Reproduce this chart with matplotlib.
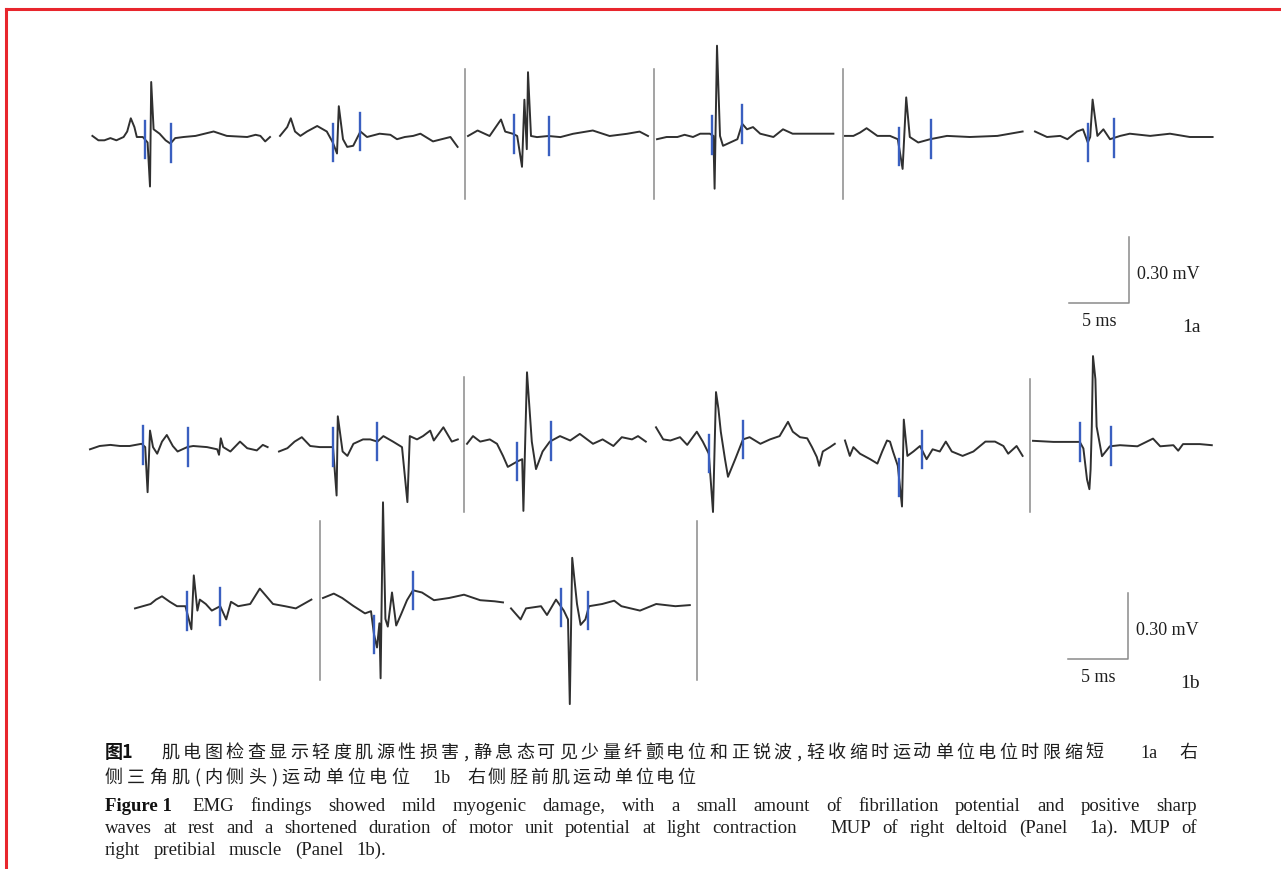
import numpy as np
import matplotlib
matplotlib.use("Agg")
import matplotlib.pyplot as plt
from matplotlib.lines import Line2D

# ---------------- data (time in ms, amplitude in µV) ----------------
# Panel 1a : MUP of right deltoid
t_1a1 = [0.2, 0.7, 1.2, 1.7, 2.2, 2.8, 3.1, 3.4, 3.7, 3.9, 4.4, 4.8, 5.0, 5.1, 5.3, 5.8, 6.3, 6.7, 7.1, 7.8, 8.8, 10.3, 11.4, 13.1, 13.8, 14.2, 14.6, 15.0]
v_1a1 = [5, -15, -15, -5, -15, 0, 25, 85, 45, 0, 0, -25, -225, 250, 35, 15, -15, -30, -5, 0, 5, 25, 5, 0, 10, 5, -20, 0]
m_1a1 = [4.6, 6.75]

t_1a2 = [0, 0.6, 0.9, 1.25, 1.7, 2.25, 3.1, 3.9, 4.4, 4.75, 4.9, 5.25, 5.6, 6.1, 6.7, 7.25, 8.3, 9.2, 9.75, 10.4, 11.1, 11.7, 12.75, 14.2, 14.8]
v_1a2 = [5, 45, 85, 25, 5, 25, 50, 25, -25, -75, 140, -10, -45, -40, 25, 0, 15, 10, -10, 0, 5, 15, -20, 0, -45]
m_1a2 = [4.4, 6.7]

t_1a3 = [0, 0.8, 1.8, 2.75, 3.1, 3.75, 4.1, 4.5, 4.7, 4.9, 5.0, 5.25, 5.75, 6.7, 7.7, 8.75, 10.4, 11.8, 13.25, 14.3, 15.0]
v_1a3 = [0, 25, 0, 75, 20, 10, 0, -140, 165, -60, 290, 0, -5, 0, -5, 10, 25, 0, 10, 20, 0]
m_1a3 = [3.8, 6.75]

t_1a4 = [0, 0.8, 1.7, 2.3, 3.0, 3.6, 4.4, 4.7, 4.8, 5.0, 5.25, 5.5, 6.1, 6.7, 7.1, 7.5, 8.0, 8.6, 9.7, 10.5, 11.3, 13.0, 14.7]
v_1a4 = [-10, 0, 0, 10, 0, 15, 15, 5, -235, 415, 5, -40, -25, -10, 60, 35, 45, 15, 0, 35, 15, 15, 15]
m_1a4 = [4.6, 7.1]

t_1a5 = [0, 0.7, 1.25, 1.8, 2.7, 3.75, 4.4, 4.8, 5.1, 5.4, 6.1, 7.1, 8.5, 10.4, 12.7, 14.8]
v_1a5 = [5, 5, 20, 40, 5, 5, -10, -145, 180, 0, -25, -10, 5, 0, 5, 25]
m_1a5 = [4.5, 7.2]

t_1a6 = [0, 1.0, 2.1, 2.7, 3.5, 4.0, 4.4, 4.6, 4.8, 5.2, 5.7, 6.25, 7.1, 7.9, 9.6, 11.25, 12.9, 14.8]
v_1a6 = [25, 0, 5, -10, 25, 35, -25, 0, 170, 5, 35, -10, 5, 15, 5, 15, 0, 0]
m_1a6 = [4.4, 6.6]

# Panel 1b : MUP of right pretibial muscle
t_1b1 = [0, 0.8, 1.7, 2.5, 3.3, 4.3, 4.6, 4.8, 5.0, 5.25, 5.6, 6.0, 6.4, 6.9, 7.3, 8.1, 8.6, 9.75, 10.6, 10.75, 10.9, 11.1, 11.7, 12.5, 13.1, 13.9, 14.4, 14.8]
v_1b1 = [-15, 0, 5, 0, 0, 10, -5, -210, 70, -5, -35, 20, 50, 0, -25, -5, 0, -5, -15, -40, 35, -5, -25, 20, -10, -20, 5, -5]
m_1b1 = [4.4, 8.2]

t_1b2 = [0, 0.7, 1.3, 1.9, 2.6, 3.4, 4.5, 4.8, 4.9, 5.3, 5.7, 6.2, 7.0, 7.6, 8.2, 8.7, 9.5, 10.25, 10.7, 10.9, 11.5, 12.0, 12.6, 12.9, 13.7, 14.4, 14.9]
v_1b2 = [-25, -10, 20, 40, 0, -5, -5, -225, 135, -25, -45, 10, 30, 30, 20, 45, 20, -5, -255, 45, 30, 45, 70, 25, 85, 20, 30]
m_1b2 = [4.5, 8.2]

t_1b3 = [0, 0.5, 1.1, 1.9, 2.5, 3.0, 3.4, 4.2, 4.6, 4.7, 5.0, 5.4, 5.75, 6.3, 6.9, 7.75, 8.6, 9.4, 10.5, 11.3, 12.2, 12.9, 13.75, 14.25, 14.9]
v_1b3 = [10, 45, 20, 30, 10, -45, -95, -70, -60, -295, 335, 20, -105, -25, 20, 45, 25, 55, 10, 30, 0, 40, 30, 45, 20]
m_1b3 = [4.2, 7.0]

t_1b4 = [0, 0.6, 1.2, 2.0, 2.6, 3.4, 3.9, 4.4, 4.75, 5.0, 5.2, 5.4, 5.75, 6.0, 6.6, 7.25, 7.8, 8.7, 9.5, 10.3, 11.0, 11.4, 12.0, 12.6, 13.0, 13.4, 13.6, 13.9, 14.5, 14.9]
v_1b4 = [85, 30, 25, 40, 5, 65, 20, -35, -300, 245, 170, 65, -60, -140, -60, 30, 40, 10, 30, 45, 110, 65, 40, 35, -5, -50, -90, -25, -5, 10]
m_1b4 = [4.4, 7.25]

t_1b5 = [0, 0.4, 0.7, 1.25, 2.1, 2.7, 3.1, 3.5, 3.75, 4.0, 4.4, 4.75, 4.9, 5.2, 5.7, 6.25, 6.8, 7.3, 7.9, 8.4, 8.9, 9.8, 10.7, 11.7, 12.5, 13.2, 13.6, 14.3, 14.8]
v_1b5 = [25, -45, -5, -35, -60, -80, -25, 25, 20, -25, -90, -275, 120, -45, -25, 0, -60, -15, -25, 20, -25, -45, -25, 20, 20, 0, -35, 0, -45]
m_1b5 = [4.5, 6.4]

t_1b6 = [0, 1.7, 3.9, 4.2, 4.5, 4.7, 4.8, 4.9, 5.0, 5.2, 5.3, 5.75, 6.4, 7.25, 8.7, 10.0, 10.6, 11.7, 12.1, 12.5, 13.9, 14.9]
v_1b6 = [10, 5, 5, -25, -165, -210, -120, 75, 395, 290, 75, -60, -15, -10, -15, 20, -15, -10, -35, -5, -5, -10]
m_1b6 = [3.9, 6.5]

t_1b7 = [0, 1.3, 1.75, 2.25, 2.9, 3.5, 4.2, 4.7, 4.9, 5.2, 5.4, 5.9, 6.4, 7.1, 7.6, 8.0, 8.6, 9.6, 10.4, 11.5, 12.5, 13.4, 14.7]
v_1b7 = [-20, 0, 20, 35, 10, -10, -10, -115, 130, -30, 20, 0, -30, -10, -70, 10, -10, 0, 70, 0, -10, -20, 20]
m_1b7 = [4.3, 7.1]

t_1b8 = [0, 0.9, 1.6, 2.5, 3.5, 4.0, 4.25, 4.5, 4.7, 4.8, 5.0, 5.2, 5.4, 5.75, 6.1, 6.5, 7.0, 7.5, 8.25, 9.25, 10.5, 11.75, 13.1, 14.3, 15.0]
v_1b8 = [0, 20, 0, -35, -70, -60, -165, -225, -115, -365, 435, -95, -130, 25, -125, -75, -10, 35, 25, -10, 0, 15, -10, -15, -20]
m_1b8 = [4.25, 7.5]

t_1b9 = [0, 0.8, 1.25, 2.5, 3.0, 3.75, 4.4, 4.75, 4.9, 5.1, 5.5, 5.8, 6.2, 6.5, 7.6, 8.6, 9.2, 10.75, 12.1, 13.7, 14.9]
v_1b9 = [-20, -70, -20, -10, -50, 20, -30, -70, -455, 210, 0, -95, -70, -10, 0, 15, -10, -30, 0, -10, -5]
m_1b9 = [4.2, 6.4]

scale_ms = 5
scale_mv = 0.30

caption_cn1 = ["图1", "肌电图检查显示轻度肌源性损害,静息态可见少量纤颤电位和正锐波,轻收缩时运动单位电位时限缩短", "1a", "右"]
caption_cn2 = ["侧三角肌(内侧头)运动单位电位", "1b", "右侧胫前肌运动单位电位"]
caption_en1 = "EMG findings showed mild myogenic damage, with a small amount of fibrillation potential and positive sharp"
caption_en2 = "waves at rest and a shortened duration of motor unit potential at light contraction   MUP of right deltoid (Panel 1a).  MUP of"
caption_en3 = "right pretibial muscle (Panel 1b)."

# ---------------- layout ----------------
W, H = 1281, 870
PX_MS = 12.0      # pixels per ms
PX_MV = 220.0     # pixels per mV

fig = plt.figure(figsize=(W / 100, H / 100), dpi=100)
fig.patch.set_facecolor("white")
ax = fig.add_axes([0, 0, 1, 1])
ax.set_xlim(0, W / PX_MS)
ax.set_ylim(-H / PX_MV, 0)
ax.axis("off")

TRACE_C = "#303030"
BLUE = "#3a5fc0"
GRAY = "#8a8a8a"

traces = [
    (t_1a1, v_1a1, m_1a1, 90, 138), (t_1a2, v_1a2, m_1a2, 280, 138),
    (t_1a3, v_1a3, m_1a3, 468, 137), (t_1a4, v_1a4, m_1a4, 657, 138),
    (t_1a5, v_1a5, m_1a5, 845, 138), (t_1a6, v_1a6, m_1a6, 1035, 138),
    (t_1b1, v_1b1, m_1b1, 90, 447), (t_1b2, v_1b2, m_1b2, 279, 447),
    (t_1b3, v_1b3, m_1b3, 467, 447), (t_1b4, v_1b4, m_1b4, 656, 447),
    (t_1b5, v_1b5, m_1b5, 845, 447), (t_1b6, v_1b6, m_1b6, 1033, 444),
    (t_1b7, v_1b7, m_1b7, 135, 605), (t_1b8, v_1b8, m_1b8, 323, 599),
    (t_1b9, v_1b9, m_1b9, 511, 605),
]
MK_HALF = 0.085  # mV

for t, v, mk, x0, base in traces:
    t = np.asarray(t, float)
    v = np.asarray(v, float) / 1000.0
    xs = x0 / PX_MS + t
    ys = -base / PX_MV + v
    ax.plot(xs, ys, color=TRACE_C, lw=1.4, solid_joinstyle="round", zorder=3)
    for m in mk:
        yc = -base / PX_MV + np.interp(m, t, v)
        ax.plot([x0 / PX_MS + m] * 2, [yc - MK_HALF, yc + MK_HALF], color=BLUE, lw=1.7, zorder=4)

# separators (px: x, y_top, y_bottom)
seps = [(465, 70, 200), (654, 70, 200), (843, 70, 200),
        (464, 378, 513), (1030, 380, 513),
        (320, 522, 681), (697, 522, 681)]
for x, y0, y1 in seps:
    ax.plot([x / PX_MS] * 2, [-y0 / PX_MV, -y1 / PX_MV], color=GRAY, lw=1.1, zorder=2)

# scale bars
SERIF = ["Liberation Serif", "DejaVu Serif"]
TXT = "#1e1e1e"
def scalebar(cx, cy, label):
    X, Y = cx / PX_MS, -cy / PX_MV
    ax.plot([X - scale_ms, X, X], [Y, Y, Y + scale_mv], color=GRAY, lw=1.1)
    ax.text(X + 8 / PX_MS, Y + 0.45 * scale_mv, f"{scale_mv:.2f} mV", family=SERIF,
            fontsize=13, va="center", ha="left", color=TXT)
    ax.text(X - 0.5 * scale_ms, Y - 18 / PX_MV, f"{scale_ms} ms", family=SERIF,
            fontsize=13, va="center", ha="center", color=TXT)
    ax.text(X + 62 / PX_MS, Y - 24 / PX_MV, label, family=SERIF,
            fontsize=14, va="center", ha="center", color=TXT)

scalebar(1129, 304, "1a")
scalebar(1128, 660, "1b")

# red frame
RED = "#e8262d"
fig.add_artist(Line2D([6 / W, 1], [1 - 10 / H, 1 - 10 / H], color=RED, lw=2.2))
fig.add_artist(Line2D([6 / W, 6 / W], [0, 1 - 10 / H], color=RED, lw=2.2))

# ---------------- caption ----------------
renderer = fig.canvas.get_renderer()
CJK = ["Noto Sans CJK SC", "DejaVu Sans"]

def ftext(x, y, s, **kw):
    return fig.text(x / W, 1 - y / H, s, va="baseline", ha="left", **kw)

def width_of(tobj):
    return tobj.get_window_extent(renderer).width

NARROW = ",()"
def place_chars(x, y, s, pitch, **kw):
    for ch in s:
        if ch in NARROW:
            ftext(x + 1, y, ch, **kw)
            x += pitch * 0.5
        else:
            ftext(x, y, ch, **kw)
            x += pitch
    return x

CN_SIZE = 13
EN_SIZE = 13.5
# Chinese line 1
ftext(105, 758, caption_cn1[0], family=CJK, fontsize=CN_SIZE, fontweight="bold", color="#111111")
place_chars(161, 758, caption_cn1[1], 21.5, family=CJK, fontsize=CN_SIZE, color=TXT)
ftext(1140, 758, caption_cn1[2], family=SERIF, fontsize=CN_SIZE, color=TXT)
ftext(1179, 758, caption_cn1[3], family=CJK, fontsize=CN_SIZE, color=TXT)
# Chinese line 2
place_chars(105, 783, caption_cn2[0], 22, family=CJK, fontsize=CN_SIZE, color=TXT)
ftext(432, 783, caption_cn2[1], family=SERIF, fontsize=CN_SIZE, color=TXT)
place_chars(467, 783, caption_cn2[2], 21, family=CJK, fontsize=CN_SIZE, color=TXT)

def justify(x0, x1, y, words, gap_w=None, **kw):
    ts = [ftext(0, y, w, **kw) for w in words]
    ws = [width_of(t) for t in ts]
    n = len(words) - 1
    gap_w = gap_w or [1] * n
    g = ((x1 - x0) - sum(ws)) / sum(gap_w)
    x = x0
    for i, t in enumerate(ts):
        t.set_x(x / W)
        x += ws[i] + (g * gap_w[i] if i < n else 0)

ftext(105, 811, "Figure 1", family=SERIF, fontsize=EN_SIZE, fontweight="bold", color="#111111")
justify(192, 1197, 811, caption_en1.split(), family=SERIF, fontsize=EN_SIZE, color=TXT)

w2 = caption_en2.split()
gw = [1] * (len(w2) - 1)
gw[w2.index("MUP") - 1] = 3
gw[len(w2) - 3 - 1] = 2
justify(105, 1197, 833, w2, gap_w=gw, family=SERIF, fontsize=EN_SIZE, color=TXT)
justify(105, 386, 855, caption_en3.split(), family=SERIF, fontsize=EN_SIZE, color=TXT)

fig.savefig("out.png", dpi=100, facecolor="white")
